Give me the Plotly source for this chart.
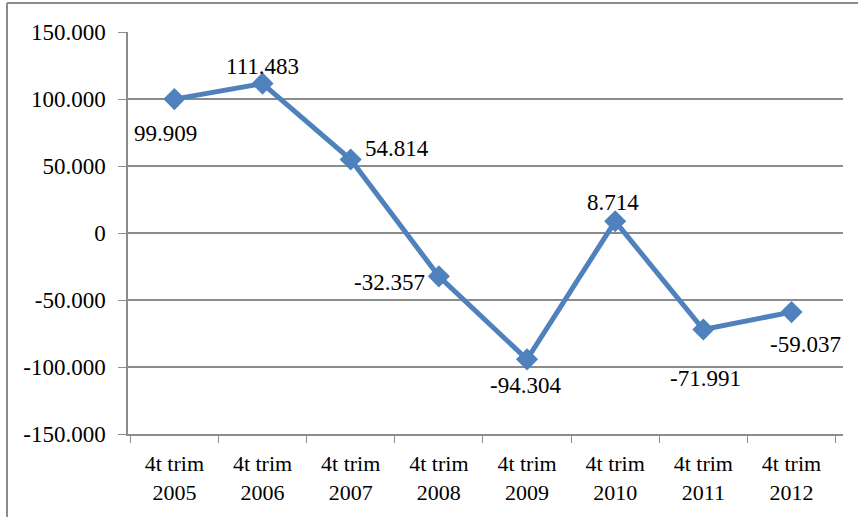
import plotly.graph_objects as go

# quarter labels and interannual change values
categories = ["4t trim<br>2005", "4t trim<br>2006", "4t trim<br>2007", "4t trim<br>2008",
              "4t trim<br>2009", "4t trim<br>2010", "4t trim<br>2011", "4t trim<br>2012"]
values = [99909, 111483, 54814, -32357, -94304, 8714, -71991, -59037]
value_labels = ["99.909", "111.483", "54.814", "-32.357", "-94.304", "8.714", "-71.991", "-59.037"]
y_ticks = [150000, 100000, 50000, 0, -50000, -100000, -150000]
y_tick_labels = ["150.000", "100.000", "50.000", "0", "-50.000", "-100.000", "-150.000"]

# label placement per point: (xanchor, xshift, yshift)
label_pos = [
    ("center", -9, -34),
    ("center", 0, 17),
    ("left", 12, 11),
    ("right", -12, -6),
    ("center", -2, -26),
    ("center", -2, 19),
    ("center", 2, -49),
    ("center", 14, -32),
]

FONT = '"Liberation Serif", "Times New Roman", serif'
FS = 23
BLUE = "#4F81BD"
GRID = "#8c8c8c"

W, H = 858, 517
ML, MR, MT, MB = 128, 15, 32, 83

fig = go.Figure()
fig.add_trace(
    go.Scatter(
        x=categories,
        y=values,
        mode="lines+markers",
        line=dict(color=BLUE, width=5),
        marker=dict(symbol="diamond", size=17, color=BLUE),
        showlegend=False,
        hoverinfo="skip",
    )
)

for cat, val, lab, (xa, dx, dy) in zip(categories, values, value_labels, label_pos):
    fig.add_annotation(
        x=cat, y=val, text=lab, showarrow=False,
        xanchor=xa, yanchor="middle", xshift=dx, yshift=dy,
        font=dict(family=FONT, size=FS, color="black"),
    )

# outer chart frame (left and top edges visible in the reference)
pw = W - ML - MR
ph = H - MT - MB
fig.add_shape(type="line", xref="paper", yref="paper",
              x0=(7 - ML) / pw, x1=(7 - ML) / pw, y0=(H - MB - H) / ph, y1=(H - MB - 3) / ph,
              line=dict(color=GRID, width=2))
fig.add_shape(type="line", xref="paper", yref="paper",
              x0=(7 - ML) / pw, x1=(W - ML) / pw, y0=(H - MB - 3) / ph, y1=(H - MB - 3) / ph,
              line=dict(color=GRID, width=2))

fig.update_layout(
    width=W,
    height=H,
    margin=dict(l=ML, r=MR, t=MT, b=MB),
    paper_bgcolor="white",
    plot_bgcolor="white",
    font=dict(family=FONT, size=FS, color="black"),
    xaxis=dict(
        showgrid=False,
        showline=True,
        linecolor=GRID,
        linewidth=1.5,
        ticks="outside",
        tickcolor=GRID,
        ticklen=7,
        tickson="boundaries",
        ticklabelstandoff=9,
        tickfont=dict(family=FONT, size=22),
        automargin=False,
    ),
    yaxis=dict(
        range=[-150000, 150000],
        tickvals=y_ticks,
        ticktext=y_tick_labels,
        showgrid=True,
        gridcolor=GRID,
        gridwidth=1.5,
        zeroline=True,
        zerolinecolor=GRID,
        zerolinewidth=1.5,
        showline=True,
        linecolor=GRID,
        linewidth=1.5,
        ticks="outside",
        tickcolor=GRID,
        ticklen=8,
        ticklabelstandoff=8,
        tickfont=dict(family=FONT, size=FS),
        automargin=False,
    ),
)

# drop the default page margin so the figure fills the window exactly
fig.write_html(
    "out.html",
    config={"displayModeBar": False},
    post_script="document.body.style.margin='0';",
)
